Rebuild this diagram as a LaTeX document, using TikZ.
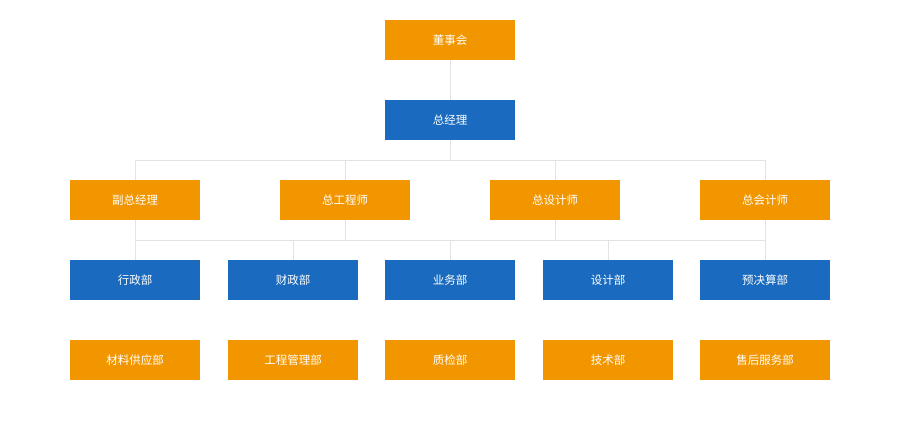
\documentclass[tikz,border=0pt]{standalone}
\usepackage{fontspec}
\setmainfont{Noto Sans CJK SC}
\usetikzlibrary{positioning}
\definecolor{boxorange}{HTML}{F29600}
\definecolor{boxblue}{HTML}{1A6BBF}
\definecolor{linkgray}{HTML}{E3E3E3}
\tikzset{
    box/.style={minimum width=130pt,minimum height=40pt,inner sep=0pt,
        text=white,font=\fontsize{11.5}{13}\selectfont},
    obox/.style={box,fill=boxorange},
    bbox/.style={box,fill=boxblue},
    link/.style={draw=linkgray,line width=0.8pt}
}
\begin{document}
\begin{tikzpicture}[x=1pt,y=-1pt]
    \useasboundingbox (0,0) rectangle (900,434);
    % top
    \node[obox] (board) at (450,40) {董事会};
    \node[bbox] (gm) at (450,120) {总经理};
    % row 3
    \node[obox] (vgm) at (135,200) {副总经理};
    \node[obox] (ce) at (345,200) {总工程师};
    \node[obox] (cd) at (555,200) {总设计师};
    \node[obox] (ca) at (765,200) {总会计师};
    % row 4
    \node[bbox] (adm) at (135,280) {行政部};
    \node[bbox] (fin) at (293,280) {财政部};
    \node[bbox] (biz) at (450,280) {业务部};
    \node[bbox] (des) at (608,280) {设计部};
    \node[bbox] (bud) at (765,280) {预决算部};
    % row 5
    \node[obox] (mat) at (135,360) {材料供应部};
    \node[obox] (eng) at (293,360) {工程管理部};
    \node[obox] (qc) at (450,360) {质检部};
    \node[obox] (tec) at (608,360) {技术部};
    \node[obox] (aft) at (765,360) {售后服务部};
    % links
    \coordinate (busA) at (450,160);
    \coordinate (busB) at (450,240);
    \draw[link] (board.south) -- (gm.north);
    \draw[link] (gm.south) -- (busA);
    \draw[link] (vgm.north |- busA) -- (ca.north |- busA);
    \foreach \n in {vgm,ce,cd,ca}
        \draw[link] (\n.north |- busA) -- (\n.north);
    \draw[link] (vgm.south |- busB) -- (bud.north |- busB);
    \foreach \n in {vgm,ce,cd,ca}
        \draw[link] (\n.south) -- (\n.south |- busB);
    \foreach \n in {adm,fin,biz,des,bud}
        \draw[link] (\n.north |- busB) -- (\n.north);
\end{tikzpicture}
\end{document}
